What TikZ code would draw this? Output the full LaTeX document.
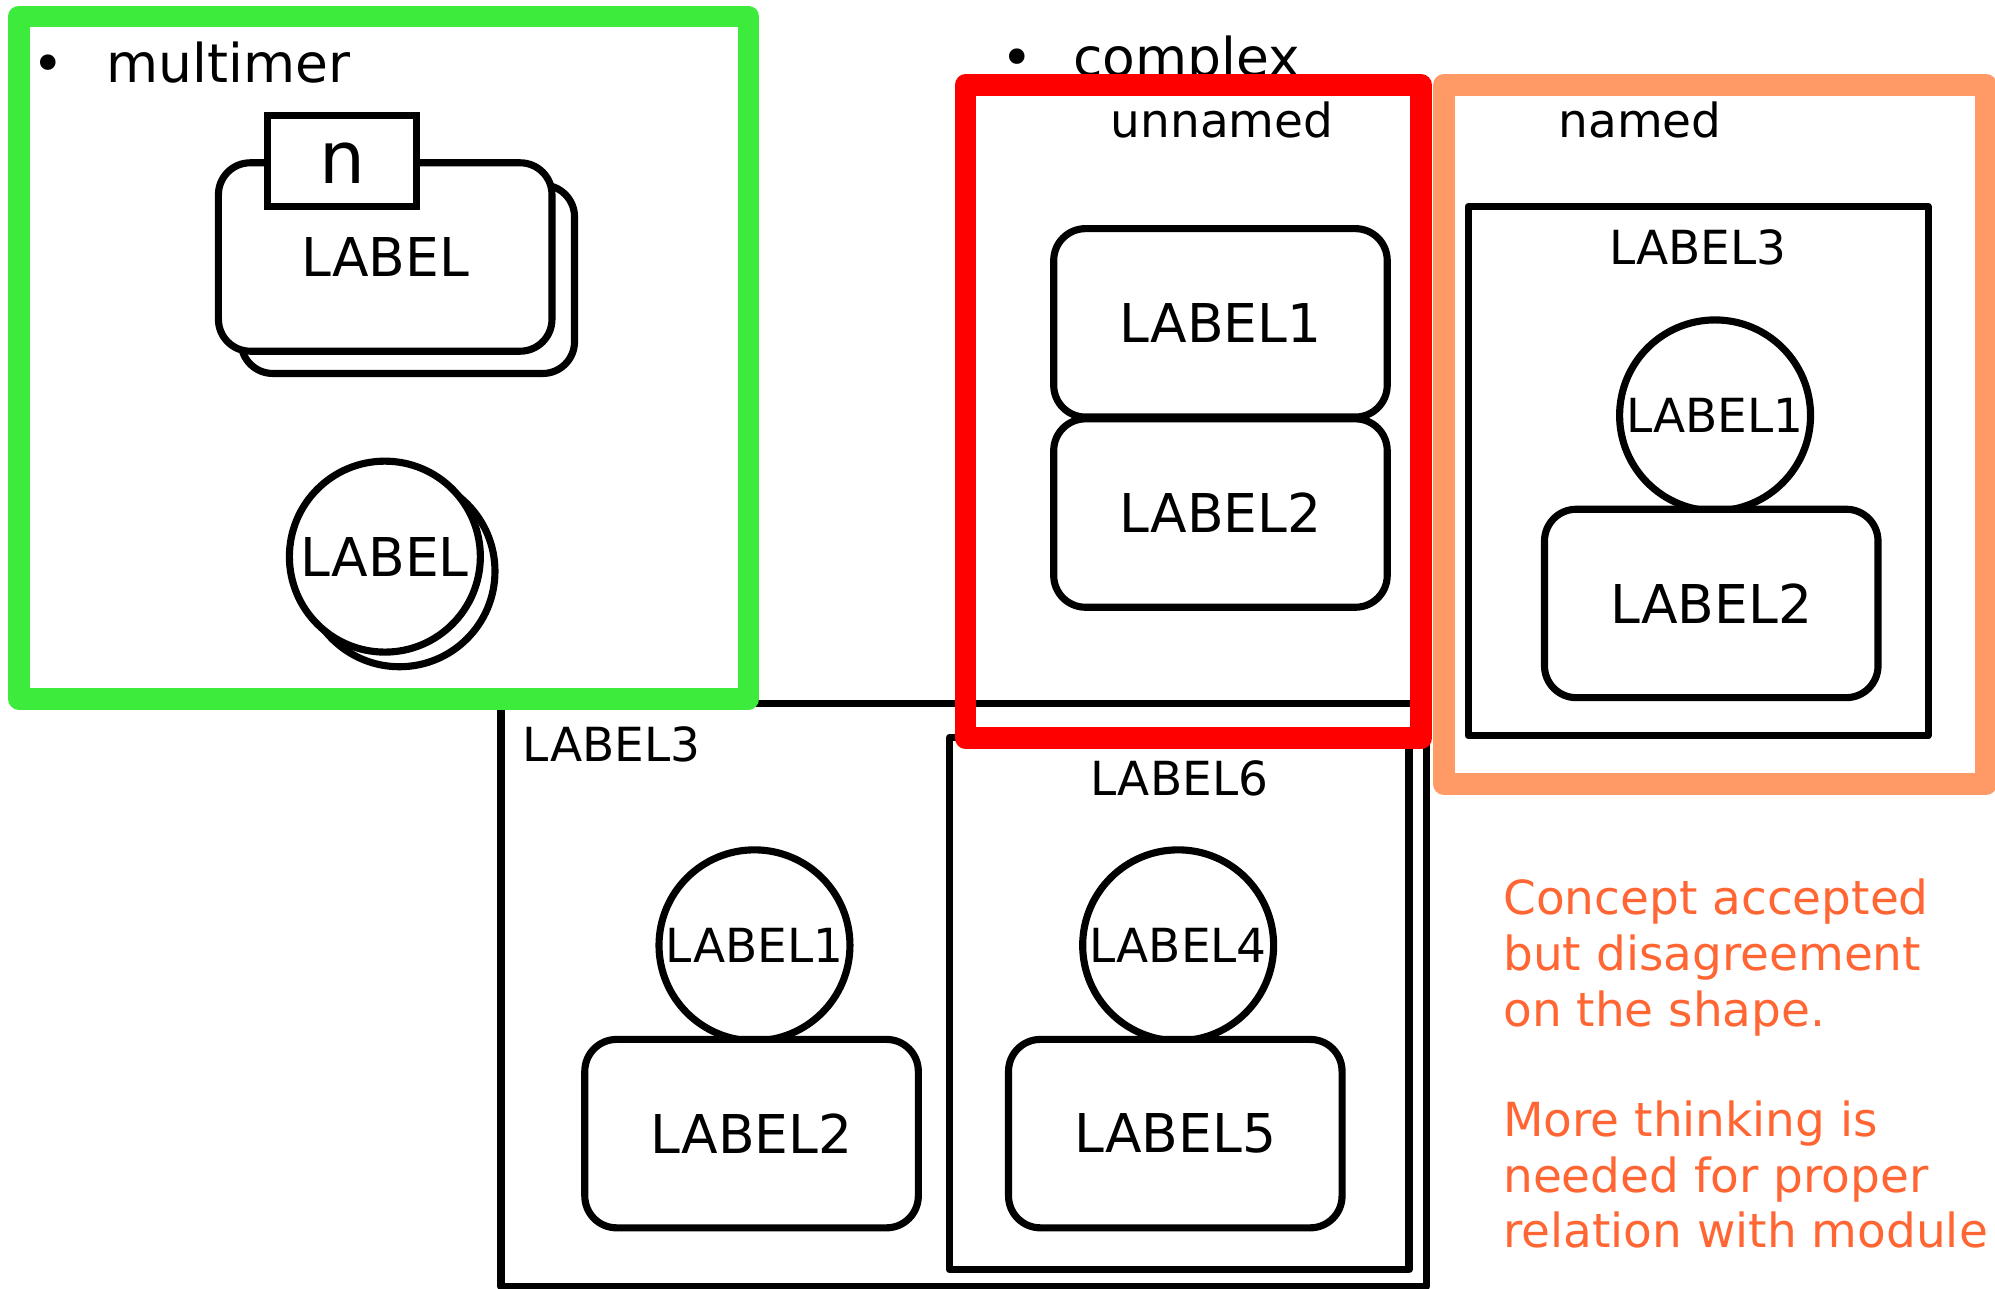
\documentclass[tikz,border=0pt]{standalone}
\usepackage{fontspec}
\setmainfont{DejaVu Sans}
\definecolor{mgreen}{RGB}{61,235,61}
\definecolor{cred}{RGB}{255,0,0}
\definecolor{corange}{RGB}{255,153,102}
\definecolor{notecol}{RGB}{255,102,51}
\tikzset{
  outline/.style={draw=black, line width=0.056cm, fill=white, line join=round},
  bigtxt/.style={font=\fontsize{11.95}{14}\selectfont},
  smalltxt/.style={font=\fontsize{10.5}{12.5}\selectfont},
  pill/.style={outline, rectangle, rounded corners=0.25cm, minimum width=2.62cm,
               minimum height=1.48cm, inner sep=0pt, bigtxt},
  ball/.style={outline, circle, minimum size=1.5cm, inner sep=0pt},
  box/.style={outline, rectangle, inner sep=0pt},
  frame/.style={rectangle, line width=0.17cm, line join=round, inner sep=0pt},
  plain/.style={inner sep=0pt, outer sep=0pt},
}
\begin{document}
\begin{tikzpicture}[x=0.01cm, y=-0.01cm]
\useasboundingbox (0,0) rectangle (1568,1013);

% compartment LABEL3 holding LABEL1/LABEL2 and the nested LABEL6
\node[box, minimum width=7.268cm, minimum height=4.579cm] (cmp3) at (757.4,782.35) {};
\node[plain, smalltxt, anchor=base west] (cmp3t) at (411,598.6) {LABEL3};
\node[box, minimum width=3.609cm, minimum height=4.182cm] (cmp6) at (926.85,788.8) {};
\node[plain, smalltxt, anchor=base] (cmp6t) at (927,625.5) {LABEL6};
\node[ball, smalltxt] (c1) at (593,743) {LABEL1};
\node[pill] (r2) at (590.7,891) {LABEL2};
\node[ball, smalltxt] (c4) at (926,743) {LABEL4};
\node[pill] (r5) at (923.75,891) {LABEL5};

% multimer
\node[frame, draw=mgreen, minimum width=5.73cm, minimum height=5.36cm] (mframe) at (301.5,281) {};
\node[plain, bigtxt, anchor=base] (mbul) at (38,65) {•};
\node[plain, bigtxt, anchor=base west] (mtitle) at (84,65) {multimer};
\node[pill] (mback) at (320.5,219.5) {};
\node[pill] (mfront) at (302.75,202) {LABEL};
\node[box, line join=miter, minimum width=1.17cm, minimum height=0.71cm] (mcount) at (268.5,126.5) {};
\node[plain, anchor=base, font=\fontsize{16.2}{18}\selectfont] (mcountt) at (269,144) {n};
\node[ball] (mcback) at (314,449) {};
\node[ball, bigtxt] (mcfront) at (302.5,437.5) {LABEL};

% complex, unnamed
\node[plain, bigtxt, anchor=base] (cbul) at (799.6,60.3) {•};
\node[plain, bigtxt, anchor=base west] (ctitle) at (843.5,60.3) {complex};
\node[frame, draw=cred, minimum width=3.58cm, minimum height=5.13cm] (uframe) at (938,323.5) {};
\node[plain, smalltxt, anchor=base] (utitle) at (960.5,108.3) {unnamed};
\node[pill] (u1) at (959.25,253.75) {LABEL1};
\node[pill] (u2) at (959.25,403.25) {LABEL2};

% complex, named
\node[frame, draw=corange, minimum width=4.26cm, minimum height=5.49cm] (nframe) at (1348,341.5) {};
\node[plain, smalltxt, anchor=base] (ntitle) at (1289,108.3) {named};
\node[box, minimum width=3.613cm, minimum height=4.158cm] (ncmp) at (1334.65,370.3) {};
\node[plain, smalltxt, anchor=base] (ncmpt) at (1334.4,207.7) {LABEL3};
\node[ball, smalltxt] (n1) at (1348,326.5) {LABEL1};
\node[pill] (n2) at (1345,474.3) {LABEL2};

% note
\node[plain, smalltxt, text=notecol, align=left, anchor=north west] (note) at (1181.5,691)
  {Concept accepted\\but disagreement\\on the shape.\\[0.42cm]More thinking is\\needed for proper\\relation with module};
\end{tikzpicture}
\end{document}
